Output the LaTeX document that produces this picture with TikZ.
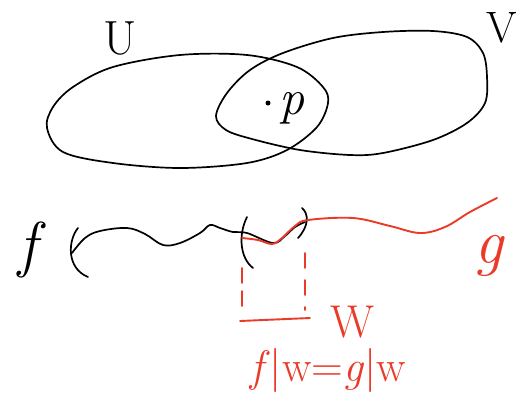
\documentclass[tikz,border=0pt]{standalone}
\usetikzlibrary{calc}
\definecolor{inkred}{RGB}{234,58,40}
\tikzset{
    lab/.style={
        inner sep=0pt, font=\fontsize{#1}{#1}\selectfont
    },
    lab/.default=40
}

\begin{document}
\begin{tikzpicture}[x=1pt,y=-1pt, line cap=round, line join=round]

\tikzset{
  ink/.style={black, line width=1.7pt},
  redink/.style={inkred, line width=1.9pt},
  redlab/.style={lab=#1, text=inkred},
  dot/.style={circle, fill=black, inner sep=0pt, minimum size=5pt}
}

\useasboundingbox (0,0) rectangle (518,397);

% the two open sets
\draw[ink] plot[smooth cycle, tension=0.55] coordinates {(47,128) (53,107) (73,87) (113,67) (180,55) (247,55) (297,67) (323,87) (328,103) (317,127) (287,150) (247,163) (180,168) (113,163) (63,152)};
\draw[ink] plot[smooth cycle, tension=0.55] coordinates {(216,116) (227,93) (250,70) (283,53) (333,38) (383,32) (433,31) (467,37) (483,53) (487,77) (485,103) (467,123) (433,140) (383,153) (350,155) (300,150) (252,139) (226,130)};

\node[lab=48] (setU) at (120,38) {U};
\node[lab=44] (setV) at (502,28) {V};
\node[dot] (pt) at (268,103) {};
\node[lab=50] (ptlab) at (292,108) {\textit{p}};

% f and g
\node[lab=62] (fun) at (32,250) {\textit{f}};
\draw[ink] (78,228) .. controls (68,240) and (66,268) .. (88,277);
\draw[ink] plot[smooth, tension=0.6] coordinates {(72,253) (85,238) (100,231) (127,228) (145,234) (163,245) (180,243) (200,233) (210,225) (220,228) (233,232) (247,233) (273,243) (285,236) (295,227) (305,222)};
\draw[ink] (247,217) .. controls (238,235) and (240,258) .. (253,268);
\draw[ink] (302,208) .. controls (309,214) and (309,226) .. (298,238);

\draw[redink] plot[smooth, tension=0.6] coordinates {(242,238) (258,240) (272,244) (282,238) (295,226) (308,220) (353,218) (390,226) (420,233) (445,227) (470,212) (497,198)};
\node[redlab=64] (gfun) at (490,256) {\textit{g}};

% the neighbourhood W
\draw[redink, dash pattern=on 15pt off 8pt] (242,268) -- (242,312);
\draw[redink, dash pattern=on 15pt off 12pt] (305,253) -- (305,310);
\draw[redink] (240,321) -- (310,318);
\node[redlab=46] (nbW) at (352,322) {W};
\node[redlab=44] (eqn) at (328,370) {\textit{f}|w=\textit{g}|w};

\end{tikzpicture}
\end{document}
